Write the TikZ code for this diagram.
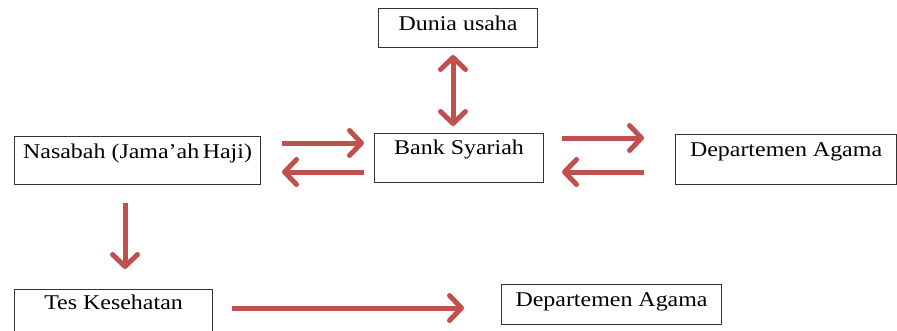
\documentclass[tikz,border=0pt]{standalone}
\usepackage{fontspec}
\setmainfont[FakeStretch=1.14]{Liberation Serif}
\usetikzlibrary{arrows.meta}
\definecolor{arrowred}{HTML}{C0504D}
\tikzset{
  box/.style={draw=black!80, line width=1.1pt, anchor=north west, inner sep=0pt,
    font=\fontsize{21}{24}\selectfont},
  tipred/.tip={Straight Barb[length=12pt,width=25pt,line width=5pt,round]},
  flow/.style={draw=arrowred, line width=5pt, -tipred},
  flowboth/.style={draw=arrowred, line width=5pt, tipred-tipred}
}
\begin{document}
\begin{tikzpicture}[x=1pt,y=-1pt]
\useasboundingbox (0,0) rectangle (897,330);
\clip (0,0) rectangle (897,330);
\node[box, minimum width=159pt, text height=22pt, text depth=17pt] (dunia) at (378,8) {Dunia usaha};
\node[box, minimum width=246pt, text height=22pt, text depth=26pt] (nasabah) at (14,136) {Nasabah (Jama’ah\,Haji)};
\node[box, minimum width=169pt, text height=21pt, text depth=28pt] (bank) at (374,133) {Bank Syariah};
\node[box, minimum width=221pt, text height=22pt, text depth=28pt] (dept1) at (675,134) {Departemen Agama};
\node[box, minimum width=198pt, text height=20pt, text depth=40pt] (tes) at (14,289) {Tes Kesehatan};
\node[box, minimum width=220pt, text height=22pt, text depth=18pt] (dept2) at (501,284) {Departemen Agama};

\coordinate (a1s) at (282,143); \coordinate (a1e) at (364,143);
\coordinate (a2s) at (364,172); \coordinate (a2e) at (282,172);
\coordinate (a3s) at (562,138); \coordinate (a3e) at (644,138);
\coordinate (a4s) at (644,172); \coordinate (a4e) at (562,172);
\coordinate (a5s) at (453,55);  \coordinate (a5e) at (453,126);
\coordinate (a6s) at (125,203); \coordinate (a6e) at (125,269);
\coordinate (a7s) at (232,308); \coordinate (a7e) at (464,308);

\draw[flow] (a1s) -- (a1e);
\draw[flow] (a2s) -- (a2e);
\draw[flow] (a3s) -- (a3e);
\draw[flow] (a4s) -- (a4e);
\draw[flowboth] (a5s) -- (a5e);
\draw[flow] (a6s) -- (a6e);
\draw[flow] (a7s) -- (a7e);
\end{tikzpicture}
\end{document}
